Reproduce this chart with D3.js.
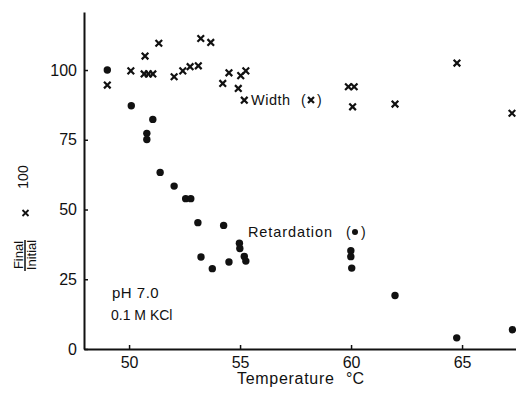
<!DOCTYPE html>
<html><head><meta charset="utf-8">
<script src="https://cdn.jsdelivr.net/npm/d3@7"></script>
<style>
html,body{margin:0;padding:0;background:#fff;}
svg text{font-family:"Liberation Sans",Arial,sans-serif;fill:#111;}
</style></head>
<body><svg id="c" width="516" height="396"></svg>
<script>
// Width (×) series
const widthTemp = [49.02, 50.08, 50.72, 50.68, 50.87, 51.07, 51.34, 52.03, 52.42, 52.75, 53.12, 53.23, 53.68, 54.22, 54.5, 54.92, 55.03, 55.26, 55.19, 59.88, 60.14, 60.07, 61.98, 64.77, 67.25];
const widthVal  = [94.6, 99.7, 105.0, 98.6, 98.6, 98.6, 109.6, 97.6, 99.7, 101.2, 101.5, 111.3, 109.9, 95.2, 99.0, 93.4, 98.0, 99.7, 89.2, 94.0, 94.0, 86.8, 87.8, 102.5, 84.5];
// Retardation (•) series
const retTemp = [49.02, 50.1, 51.07, 50.8, 50.8, 51.4, 52.03, 52.55, 52.78, 53.1, 53.24, 53.75, 54.26, 54.5, 54.97, 54.99, 55.19, 55.26, 59.99, 59.99, 60.03, 61.98, 64.76, 67.27];
const retVal  = [100, 87.2, 82.3, 77.3, 75.1, 63.3, 58.4, 53.9, 53.9, 45.3, 33.0, 28.8, 44.3, 31.2, 37.9, 36.0, 33.2, 31.5, 35.2, 33.1, 29.0, 19.2, 4.0, 6.9];
const xTicks = [50, 55, 60, 65];
const yTicks = [0, 25, 50, 75, 100];

const svg = d3.select("#c");
const x = d3.scaleLinear().domain([47.97, 67.43]).range([84, 516]);
const y = d3.scaleLinear().domain([0, 120.8]).range([349, 12]);

const ax = svg.append("g").attr("transform","translate(0,349)")
  .call(d3.axisBottom(x).tickValues(xTicks).tickSizeInner(-4).tickSizeOuter(0).tickPadding(8).tickFormat(d3.format("d")));
const ay = svg.append("g").attr("transform","translate(84,0)")
  .call(d3.axisLeft(y).tickValues(yTicks).tickSizeInner(-4).tickSizeOuter(0).tickPadding(7).tickFormat(d3.format("d")));
[ax, ay].forEach(g=>{
  g.select(".domain").attr("stroke","#111").attr("stroke-width",2);
  g.selectAll(".tick line").attr("stroke","#111").attr("stroke-width",1.5);
  g.selectAll(".tick text").attr("font-size",16).attr("fill","#111");
});

// Width markers (×)
const s = 3.3;
svg.append("g").selectAll("path").data(widthTemp).join("path")
  .attr("d",(d,i)=>{const cx=x(d), cy=y(widthVal[i]);
    return `M${cx-s},${cy-s}L${cx+s},${cy+s}M${cx-s},${cy+s}L${cx+s},${cy-s}`;})
  .attr("stroke","#111").attr("stroke-width",2.2).attr("fill","none");

// Retardation markers (•)
svg.append("g").selectAll("circle").data(retTemp).join("circle")
  .attr("cx",d=>x(d)).attr("cy",(d,i)=>y(retVal[i])).attr("r",3.7).attr("fill","#111");

// Series labels
svg.append("text").attr("x",251).attr("y",105).attr("font-size",14.5).attr("letter-spacing",0.5).text("Width");
svg.append("text").attr("x",301).attr("y",105).attr("font-size",14).text("(");
svg.append("path").attr("d","M308,97L314,103M308,103L314,97").attr("stroke","#111").attr("stroke-width",2.2);
svg.append("text").attr("x",317).attr("y",105).attr("font-size",14).text(")");

svg.append("text").attr("x",248).attr("y",237).attr("font-size",14.5).attr("letter-spacing",0.9).text("Retardation");
svg.append("text").attr("x",346).attr("y",237).attr("font-size",14).text("(");
svg.append("circle").attr("cx",355).attr("cy",232).attr("r",3).attr("fill","#111");
svg.append("text").attr("x",361).attr("y",237).attr("font-size",14).text(")");

// Condition annotation
svg.append("text").attr("x",112).attr("y",298).attr("font-size",15).attr("letter-spacing",0.5).text("pH  7.0");
svg.append("text").attr("x",111).attr("y",320).attr("font-size",14).text("0.1 M  KCl");

// X axis title
svg.append("text").attr("x",237).attr("y",384).attr("font-size",16).attr("letter-spacing",0.7).text("Temperature");
svg.append("text").attr("x",346).attr("y",384).attr("font-size",16).text("\u00B0C");

// Y axis title (rotated)
svg.append("text").attr("transform","translate(23,255) rotate(-90)").attr("text-anchor","middle").attr("font-size",13).text("Final");
svg.append("line").attr("x1",25).attr("x2",25).attr("y1",240).attr("y2",271).attr("stroke","#111").attr("stroke-width",1.5);
svg.append("text").attr("transform","translate(36,255) rotate(-90)").attr("text-anchor","middle").attr("font-size",13).text("Initial");
svg.append("path").attr("d","M22.5,210L28.5,216M22.5,216L28.5,210").attr("stroke","#111").attr("stroke-width",1.8);
svg.append("text").attr("transform","translate(28,177) rotate(-90)").attr("text-anchor","middle").attr("font-size",14).text("100");
</script></body></html>
